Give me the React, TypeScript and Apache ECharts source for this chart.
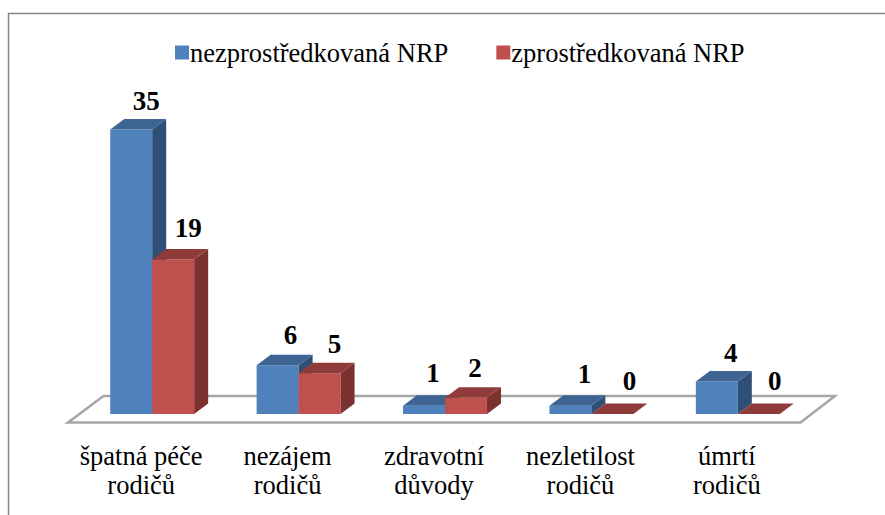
import React, { useEffect, useRef } from "react";
import * as echarts from "echarts";

const categories = ["špatná péče\nrodičů", "nezájem\nrodičů", "zdravotní\ndůvody", "nezletilost\nrodičů", "úmrtí\nrodičů"];
const directValues = [35, 6, 1, 1, 4];
const mediatedValues = [19, 5, 2, 0, 0];
const directName = "nezprostředkovaná NRP";
const mediatedName = "zprostředkovaná NRP";
const FONT = '"Liberation Serif", "Times New Roman", serif';

const BAR_RATIO = 42 / 146.5;
const DX = 14;
const DY = 10.5;
// hand-placed data labels in the reference
const directNudge = [[1, 0], [-1, -1], [-5, -4], [0, -3], [0, 1]];
const mediatedNudge = [[1, -3], [1, 0], [-5, -1], [3, -4], [2, -4]];

function bars(side: -1 | 1, front: string, top: string, right: string, nudge: number[][]) {
  return (params: any, api: any) => {
    const i = api.value(0);
    const v = api.value(1);
    const c0 = api.coord([i, 0]);
    const c1 = api.coord([i, v]);
    const w = api.size([1, 0])[0] * BAR_RATIO;
    const x0 = side < 0 ? c0[0] - w : c0[0];
    const x1 = x0 + w;
    const y0 = c0[1];
    const y1 = c1[1];
    const children: any[] = [
      { type: "polygon", shape: { points: [[x1, y0], [x1 + DX, y0 - DY], [x1 + DX, y1 - DY], [x1, y1]] }, style: { fill: right } },
      { type: "polygon", shape: { points: [[x0, y1], [x0 + DX, y1 - DY], [x1 + DX, y1 - DY], [x1, y1]] }, style: { fill: top } },
    ];
    if (v > 0) {
      children.unshift({ type: "rect", shape: { x: x0, y: y1, width: w, height: y0 - y1 }, style: { fill: front } });
    }
    children.push({
      type: "text",
      style: {
        text: String(v),
        x: (x0 + x1) / 2 + 14 + nudge[i][0],
        y: y1 - 29 + nudge[i][1],
        fill: "#000",
        font: `bold 27px ${FONT}`,
        align: "center",
        verticalAlign: "middle",
      },
    });
    return { type: "group", children };
  };
}

export default function App() {
  const ref = useRef<HTMLDivElement>(null);
  useEffect(() => {
    document.body.style.margin = "0";
    const chart = echarts.init(ref.current!, null, { renderer: "svg" });
    chart.setOption({
      animation: false,
      backgroundColor: "#fff",
      grid: { left: 79, right: 74, top: 129.5, height: 284.5 },
      xAxis: {
        type: "category",
        data: categories,
        axisLine: { show: false },
        axisTick: { show: false },
        axisLabel: {
          interval: 0,
          margin: 27,
          padding: [0, 22, 0, 0],
          color: "#000",
          fontFamily: FONT,
          fontSize: 26.5,
          lineHeight: 29,
        },
      },
      yAxis: { type: "value", min: 0, max: 35, show: false },
      legend: {
        left: 170,
        top: 34,
        icon: "rect",
        itemWidth: 14,
        itemHeight: 14,
        itemGap: 48,
        textStyle: { color: "#000", fontFamily: FONT, fontSize: 26.5, padding: [0, 0, 0, -4] },
        data: [directName, mediatedName],
      },
      graphic: [
        { type: "line", shape: { x1: 8, y1: 13.5, x2: 885, y2: 13.5 }, style: { stroke: "#868686", lineWidth: 1.5 } },
        { type: "line", shape: { x1: 8.5, y1: 13, x2: 8.5, y2: 515 }, style: { stroke: "#868686", lineWidth: 1.5 } },
        {
          type: "polygon",
          shape: { points: [[68, 422.5], [103.5, 396], [835, 396], [800.5, 422.5]] },
          style: { fill: "#fff", stroke: "#a6a6a6", lineWidth: 2.5 },
        },
      ],
      series: [
        {
          name: directName,
          type: "custom",
          itemStyle: { color: "#4f81bd" },
          encode: { x: 0, y: 1 },
          data: directValues.map((v, i) => [i, v]),
          renderItem: bars(-1, "#4f81bd", "#3e6494", "#2f4f77", directNudge),
          z: 2,
        },
        {
          name: mediatedName,
          type: "custom",
          itemStyle: { color: "#c0504d" },
          encode: { x: 0, y: 1 },
          data: mediatedValues.map((v, i) => [i, v]),
          renderItem: bars(1, "#c0504d", "#8f3b39", "#7b3130", mediatedNudge),
          z: 3,
        },
      ],
    });
    return () => chart.dispose();
  }, []);
  return <div ref={ref} style={{ width: 885, height: 515 }} />;
}
